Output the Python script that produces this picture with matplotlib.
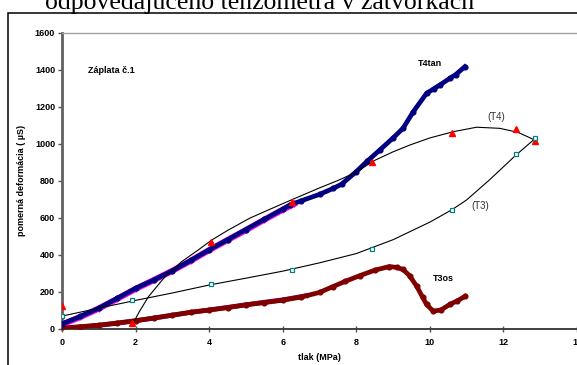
import numpy as np
import matplotlib
matplotlib.use("Agg")
import matplotlib.pyplot as plt
from matplotlib.patches import Rectangle

plt.rcParams['font.family'] = ['Liberation Sans', 'DejaVu Sans']

# T4tan - tmave modre body
t4tan_x = [0, 0.5, 1, 1.5, 2, 2.5, 3, 3.5, 4, 4.5, 5, 5.5, 6, 6.2, 6.5, 7, 7.37, 7.6,
           8, 8.3, 8.64, 9, 9.27, 9.55, 9.91, 10.1, 10.27, 10.54, 10.7, 10.95]
t4tan_y = [25, 65, 110, 163, 217, 263, 312, 368, 425, 480, 535, 590, 645, 668, 690, 725,
           757, 780, 848, 905, 965, 1030, 1082, 1172, 1271, 1295, 1316, 1352, 1372, 1415]

# druha seria pod T4tan (fialova)
t4b_x = [0, 0.5, 1, 1.5, 2, 2.5, 3, 3.5, 4, 4.5, 5, 5.5, 6, 6.3]
t4b_y = [22, 62, 108, 160, 214, 262, 312, 366, 424, 478, 532, 588, 642, 672]

# T3os - tmave cervene body
t3os_x = [0, 0.5, 1, 1.5, 2, 2.5, 3, 3.5, 4, 4.5, 5, 5.5, 6, 6.5, 7, 7.37, 7.7, 8.1,
          8.5, 8.9, 9.1, 9.27, 9.45, 9.64, 9.8, 9.91, 10.09, 10.3, 10.54, 10.75, 10.95]
t3os_y = [2, 10, 18, 30, 42, 57, 72, 88, 100, 113, 128, 140, 153, 170, 195, 227, 255, 286,
          315, 335, 330, 319, 285, 229, 170, 130, 94, 100, 130, 150, 173]

# druha seria pod T3os (fialova)
t3b_x = [0, 0.5, 1, 1.5, 2, 2.5, 3, 3.5, 4, 4.5, 5, 5.5, 6, 6.65]
t3b_y = [0, 8, 17, 28, 42, 56, 72, 87, 100, 114, 128, 142, 155, 178]

# (T4) - body a trend
t4_x = [0, 1.9, 4.05, 6.25, 8.42, 10.6, 12.35, 12.85]
t4_y = [120, 30, 470, 685, 902, 1055, 1076, 1015]
t4fit_x = [1.94, 2.1, 2.35, 2.8, 3.25, 3.7, 4.07, 4.5, 5.1, 5.6, 6.2, 7.0, 7.5, 8.0, 8.46,
           9.0, 9.46, 10.0, 10.64, 11.27, 11.9, 12.4, 12.85]
t4fit_y = [32, 90, 172, 280, 361, 424, 478, 530, 596, 640, 692, 760, 800, 845, 905,
           955, 992, 1030, 1064, 1088, 1082, 1060, 1019]

# (T3) - body a trend
t3_x = [0, 1.9, 4.05, 6.25, 8.42, 10.6, 12.34, 12.85]
t3_y = [65, 155, 240, 317, 431, 642, 942, 1028]
t3fit_x = [0, 1, 2, 3, 4, 5, 6, 7, 8, 9, 10, 10.6, 11, 11.63, 12.3, 12.85]
t3fit_y = [67, 110, 152, 192, 235, 272, 310, 355, 405, 480, 575, 642, 695, 805, 930, 1025]

x_ticks = [0, 2, 4, 6, 8, 10, 12, 14]
y_ticks = [0, 200, 400, 600, 800, 1000, 1200, 1400, 1600]

fig = plt.figure(figsize=(5.77, 3.65), dpi=100)
ax = fig.add_axes([62/577, 1 - 328.5/365, 1 - 62/577, (328.5 - 32.5)/365])

ax.plot(t3b_x, t3b_y, color='#800080', lw=3.4, marker='+', ms=3.5, mew=1, zorder=2)
ax.plot(t3os_x, t3os_y, color='#800000', lw=3.4, marker='o', ms=3.4, zorder=3)
ax.plot(t4b_x, t4b_y, color='#ff00ff', lw=4.4, marker='+', ms=4, mew=1, zorder=2)
ax.plot(t4tan_x, t4tan_y, color='#000080', lw=3.4, marker='o', ms=3.4, zorder=3)

ax.plot(t4fit_x, t4fit_y, color='black', lw=0.8, zorder=4)
ax.plot(t3fit_x, t3fit_y, color='black', lw=0.8, zorder=4)
ax.plot(t4_x, t4_y, ls='none', marker='^', ms=4.3, color='#ff0000', zorder=5)
ax.plot(t3_x, t3_y, ls='none', marker='s', ms=3.3, mfc='white', mec='#008080', mew=0.9, zorder=5)

ax.text(0.71, 1392, 'Záplata č.1', fontsize=6.5, fontweight='bold', va='center')
ax.text(9.67, 1435, 'T4tan', fontsize=6.5, fontweight='bold', va='center')
ax.text(11.55, 1143, '(T4)', fontsize=7, color='#333333', va='center')
ax.text(11.14, 662, '(T3)', fontsize=7, color='#333333', va='center')
ax.text(10.08, 268, 'T3os', fontsize=6.5, fontweight='bold', va='center')

ax.set_xlim(0, 14)
ax.set_ylim(0, 1600)
ax.set_xticks(x_ticks)
ax.set_yticks(y_ticks)
ax.set_xticklabels([str(v) for v in x_ticks], fontsize=6.5, fontweight='bold')
ax.set_yticklabels([str(v) for v in y_ticks], fontsize=6.5, fontweight='bold')
ax.tick_params(axis='y', direction='out', length=3, width=1, color='#555555', pad=2)
ax.tick_params(axis='x', direction='inout', length=4, width=1, color='#555555', pad=5)

ax.spines['left'].set_color('#606060')
ax.spines['left'].set_linewidth(2)
ax.spines['bottom'].set_color('#404040')
ax.spines['bottom'].set_linewidth(1.4)
ax.spines['top'].set_color('#a0a0a0')
ax.spines['top'].set_linewidth(1)
ax.spines['right'].set_visible(False)

ax.set_xlabel('tlak (MPa)', fontsize=6.5, fontweight='bold', labelpad=4)
ax.set_ylabel('pomerná deformácia ( µS)', fontsize=6.5, fontweight='bold', labelpad=6)

# ramcek okolo grafu
fig.patches.append(Rectangle((8/577, -0.2), 1.2, 1.2 - 13/365, transform=fig.transFigure,
                             fill=False, ec='black', lw=1.1))

# orezany nadpis nad grafom
fig.text(45/577, 1 - 9/365, 'odpovedajúceho tenzometra v zátvorkách',
         fontsize=18.5, family='Liberation Serif', va='baseline', ha='left')

fig.savefig('out.png', dpi=100)
